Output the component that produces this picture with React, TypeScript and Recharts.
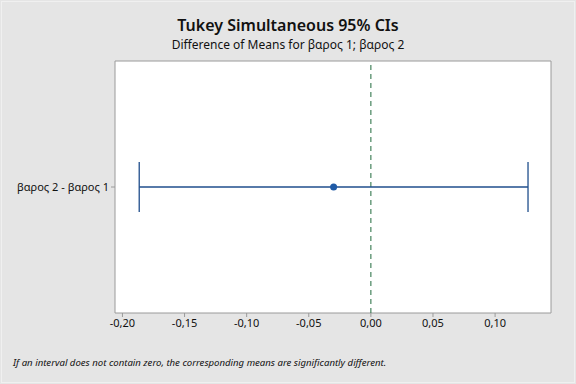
import React from "react";
import { ScatterChart, Scatter, XAxis, YAxis, ErrorBar, ReferenceLine, ReferenceArea } from "recharts";

const comparisons = ["βαρος 2 - βαρος 1"];
const diffMeans = [-0.03];
const lowerCI = [-0.1865];
const upperCI = [0.1265];
const xTicks = [-0.2, -0.15, -0.1, -0.05, 0, 0.05, 0.1];
const xDomain = [-0.206, 0.145];
const yDomain = [0, 2];

const data = comparisons.map((c, i) => ({
  name: c,
  y: i + 1,
  x: diffMeans[i],
  err: [diffMeans[i] - lowerCI[i], upperCI[i] - diffMeans[i]],
}));

const FONT = "'Noto Sans', 'Open Sans', sans-serif";

const fmt = (v: number) => v.toFixed(2).replace(".", ",");

const YTick = (props: any) => {
  const { x, y, payload } = props;
  return (
    <text x={x} y={y} dy={4} textAnchor="end" fontSize={11} fill="#111" fontFamily={FONT}>
      {comparisons[payload.value - 1] ?? ""}
    </text>
  );
};

export default function App() {
  const W = 576;
  const H = 384;
  return (
    <div style={{ position: "absolute", left: 0, top: 0, width: W, height: H, background: "#e5e5e5", fontFamily: FONT }}>
      <div style={{ position: "absolute", left: 1, top: 1, width: W - 4, height: H - 4, border: "1px solid #f0f0f0" }} />
      <div style={{ position: "absolute", left: 0, top: 15, width: 576, textAlign: "center", fontSize: 16, fontWeight: 600, color: "#111", lineHeight: "20px" }}>
        Tukey Simultaneous 95% CIs
      </div>
      <div style={{ position: "absolute", left: 0, top: 37, width: 576, textAlign: "center", fontSize: 12, color: "#111", lineHeight: "16px" }}>
        Difference of Means for βαρος 1; βαρος 2
      </div>
      <div style={{ position: "absolute", left: 13, top: 356, fontSize: 9.6, fontStyle: "italic", color: "#111", lineHeight: "14px" }}>
        If an interval does not contain zero, the corresponding means are significantly different.
      </div>
      <div style={{ position: "absolute", left: 0, top: 0 }}>
        <ScatterChart width={W} height={H} margin={{ top: 61, right: 25, left: 0, bottom: 41 }}>
          <XAxis
            type="number"
            dataKey="x"
            domain={xDomain}
            ticks={xTicks}
            allowDataOverflow
            tickFormatter={fmt}
            axisLine={false}
            tickLine={{ stroke: "#9a9a9a" }}
            tickSize={4}
            tick={{ fontSize: 11, fill: "#111", fontFamily: FONT }}
            height={30}
          />
          <YAxis
            type="number"
            dataKey="y"
            domain={yDomain}
            ticks={[1]}
            axisLine={false}
            tickLine={{ stroke: "#9a9a9a" }}
            tickSize={4}
            width={115}
            tick={<YTick />}
          />
          <ReferenceArea
            x1={xDomain[0]}
            x2={xDomain[1]}
            y1={yDomain[0]}
            y2={yDomain[1]}
            fill="#ffffff"
            fillOpacity={1}
            stroke="#9a9a9a"
            strokeWidth={1}
            ifOverflow="extendDomain"
          />
          <ReferenceLine x={0} stroke="#1f6b3c" strokeDasharray="5 4" strokeWidth={1} />
          <Scatter data={data} fill="#1f5aa6" isAnimationActive={false} shape={(p: any) => <circle cx={p.cx} cy={p.cy} r={3.5} fill="#1f5aa6" />}>
            <ErrorBar dataKey="err" direction="x" width={25} stroke="#1f4e8c" strokeWidth={1.3} />
          </Scatter>
        </ScatterChart>
      </div>
    </div>
  );
}
